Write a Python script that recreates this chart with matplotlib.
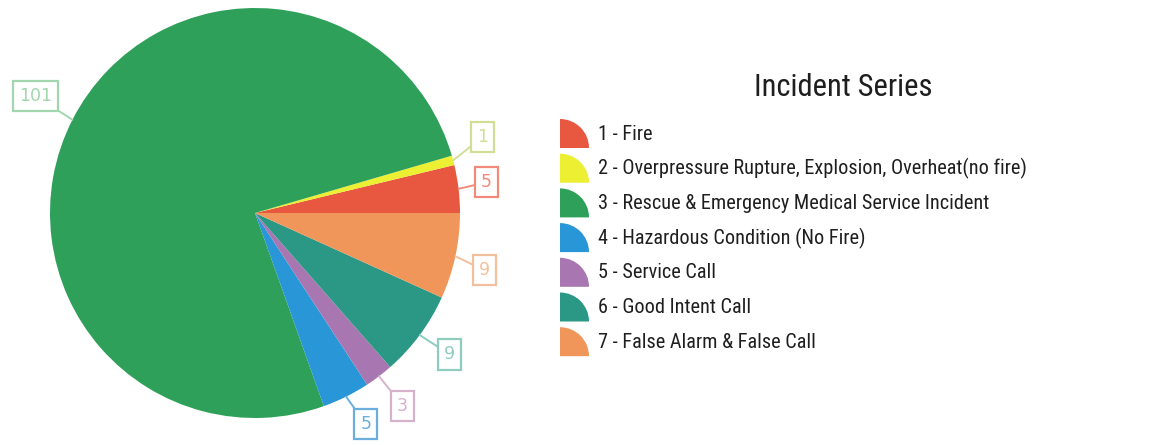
import matplotlib
matplotlib.use("Agg")
import matplotlib.pyplot as plt
import numpy as np
from matplotlib.patches import Wedge
from matplotlib import font_manager as fm

categories = ["1 - Fire",
              "2 - Overpressure Rupture, Explosion, Overheat(no fire)",
              "3 - Rescue & Emergency Medical Service Incident",
              "4 - Hazardous Condition (No Fire)",
              "5 - Service Call",
              "6 - Good Intent Call",
              "7 - False Alarm & False Call"]
values = [5, 1, 101, 5, 3, 9, 9]
colors = ["#E8573F", "#ECEF32", "#2EA05A", "#2896D7", "#A876B0", "#2A9884", "#F0965A"]
label_colors = ["#F08A7A", "#D2DE96", "#A2D6AE", "#6AAEE0", "#D6B2CA", "#8ECDBE", "#F2C09C"]
# label box positions (pie radius units)
label_pos = [(1.13, 0.15), (1.11, 0.37), (-1.07, 0.57), (0.54, -1.03),
             (0.72, -0.94), (0.95, -0.69), (1.12, -0.28)]
title = "Incident Series"

# pick a narrow font if available
fpath = None
prefs = ["liberationsansnarrow-regular", "robotocondensed-regular", "dejavusanscondensed.",
         "opensans_condensed-regular", "opensans-condensed", "notosans-condensed"]
files = [f.fname for f in fm.fontManager.ttflist]
for p in prefs:
    for fn in files:
        if p in fn.lower().replace(" ", ""):
            fpath = fn
            break
    if fpath:
        break
if fpath:
    base_prop = fm.FontProperties(fname=fpath)
else:
    base_prop = fm.FontProperties(family="Liberation Sans")

W, H = 1150, 445
fig = plt.figure(figsize=(W / 100, H / 100), dpi=100)
cx, cy, r = 255, 213, 205
ax = fig.add_axes([(cx - r) / W, (H - cy - r) / H, 2 * r / W, 2 * r / H])
wedges, _ = ax.pie(values, colors=colors, startangle=0, counterclock=True,
                   radius=1, wedgeprops=dict(linewidth=0))
ax.set_xlim(-1, 1)
ax.set_ylim(-1, 1)
ax.set_aspect("equal")
ax.axis("off")

for w, v, lc, (lx, ly) in zip(wedges, values, label_colors, label_pos):
    ang = np.deg2rad((w.theta1 + w.theta2) / 2)
    ex, ey = np.cos(ang), np.sin(ang)
    ax.annotate(str(v), xy=(ex, ey), xytext=(lx, ly), ha="center", va="center",
                fontsize=12.5, color=lc, family="DejaVu Sans",
                bbox=dict(boxstyle="square,pad=0.35", fc="white", ec=lc, lw=1.6),
                arrowprops=dict(arrowstyle="-", color=lc, lw=1.4, shrinkA=0, shrinkB=0),
                annotation_clip=False)

# legend drawn in a pixel-coordinate overlay axes
lax = fig.add_axes([0, 0, 1, 1])
lax.set_xlim(0, W)
lax.set_ylim(H, 0)
lax.axis("off")

renderer = fig.canvas.get_renderer()


def fit_size(text, target_w, start=15):
    t = lax.text(0, 0, text, fontproperties=base_prop, fontsize=start)
    bb = t.get_window_extent(renderer=renderer)
    t.remove()
    return start * target_w / bb.width


leg_size = fit_size(categories[1], 429)
leg_size = min(leg_size, 16)
title_size = min(fit_size(title, 203, 20), 22)

lax.text(843, 87, title, ha="center", va="center", fontproperties=base_prop,
         fontsize=title_size, color="#1E1E1E")
row0, dy = 134, 34.7
for i, (c, lab) in enumerate(zip(colors, categories)):
    yc = row0 + i * dy
    lax.add_patch(Wedge((560, yc + 14), 29, 270, 360, facecolor=c, edgecolor="none"))
    lax.text(598, yc, lab, ha="left", va="center", fontproperties=base_prop,
             fontsize=leg_size, color="#1E1E1E")

fig.savefig("out.png", dpi=100, facecolor="white")
